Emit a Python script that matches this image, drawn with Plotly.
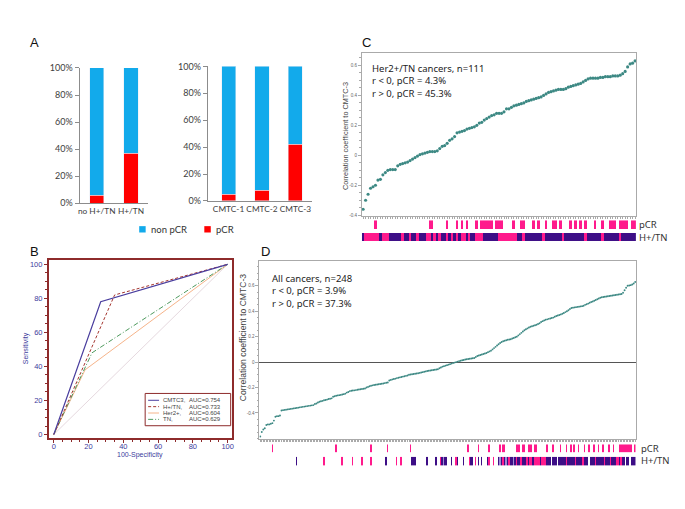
import plotly.graph_objects as go

W, H = 685, 509
def fx(px): return px / W
def fy(py): return 1 - py / H

# ---------------- DATA ----------------
# Panel A
groups_left = ["no H+/TN", "H+/TN"]
pcr_left = [6, 37]
nonpcr_left = [94, 63]
groups_right = ["CMTC-1", "CMTC-2", "CMTC-3"]
pcr_right = [5, 8, 42]
nonpcr_right = [95, 92, 58]
pct_ticks = [0, 20, 40, 60, 80, 100]
pct_labels = ["0%", "20%", "40%", "60%", "80%", "100%"]

# Panel B (ROC curves: 100-Specificity, Sensitivity)
roc_names = ["CMTC3", "H+/TN", "Her2+", "TN"]
roc_auc = ["AUC=0.754", "AUC=0.733", "AUC=0.604", "AUC=0.629"]
cmtc3_fpr = [0, 27, 100]
cmtc3_tpr = [0, 78, 100]
htn_fpr = [0, 35, 100]
htn_tpr = [0, 82, 100]
her2_fpr = [0, 18, 100]
her2_tpr = [0, 38, 100]
tn_fpr = [0, 22, 100]
tn_tpr = [0, 48, 100]
diag = [0, 100]

# Panel C: correlation to CMTC-3, Her2+/TN cancers (n=111), sorted
corr_c = [-0.36, -0.30, -0.26, -0.22, -0.21, -0.20, -0.165, -0.16, -0.13, -0.115,
          -0.10, -0.095, -0.095, -0.095, -0.07, -0.06, -0.055, -0.05, -0.045, -0.035,
          -0.025, -0.015, -0.005, 0.005, 0.01, 0.015, 0.02, 0.025, 0.025, 0.025,
          0.03, 0.045, 0.06, 0.065, 0.08, 0.10, 0.11, 0.125, 0.15, 0.155,
          0.16, 0.165, 0.175, 0.18, 0.185, 0.19, 0.20, 0.215, 0.22, 0.235,
          0.245, 0.255, 0.265, 0.27, 0.28, 0.28, 0.28, 0.29, 0.31, 0.31,
          0.32, 0.33, 0.335, 0.34, 0.345, 0.35, 0.36, 0.365, 0.37, 0.375,
          0.38, 0.385, 0.39, 0.40, 0.41, 0.42, 0.425, 0.43, 0.435, 0.44,
          0.44, 0.44, 0.445, 0.455, 0.46, 0.465, 0.47, 0.475, 0.48, 0.49,
          0.50, 0.51, 0.515, 0.515, 0.515, 0.515, 0.52, 0.52, 0.525, 0.525,
          0.525, 0.53, 0.53, 0.53, 0.535, 0.545, 0.56, 0.59, 0.61, 0.615,
          0.63]
pcr_idx_c = [5, 27, 28, 34, 38, 40, 42, 46, 48, 49, 50, 51, 52, 54, 55, 56, 61, 64, 65,
             69, 71, 74, 77, 78, 80, 84, 86, 88, 90, 94, 97, 100, 101, 102, 104, 105,
             106, 107, 109, 110]
# H+/TN subtype per sample: P = Her2+ (pink), V = TN (purple)
subtype_c = ("V" + "PPPPPP" + "V" + "PPP" + "VVVVV" + "P" + "VV" + "P" + "VV" + "P" + "VVV"
             + "PP" + "V" + "P" + "V" + "P" + "VV" + "P" + "V" + "P" + "V" + "P" + "V" + "PP"
             + "V" + "P" + "VV" + "PPP" + "VVVVVV" + "PPPPPPPP" + "VV" + "P" + "VVVVVVV" + "P"
             + "VVVVVVV" + "P" + "VVVVVVVV" + "P" + "VVVVVV" + "P" + "VVVVVV" + "P" + "VVVVVV")

# Panel D: all cancers (n=248), sorted
corr_d = [-0.585, -0.55, -0.53, -0.52, -0.495, -0.49, -0.49, -0.485, -0.48, -0.46,
          -0.43, -0.425, -0.425, -0.42, -0.38, -0.378, -0.376, -0.374, -0.372, -0.37,
          -0.368, -0.366, -0.364, -0.362, -0.36, -0.358, -0.356, -0.354, -0.352, -0.35,
          -0.348, -0.346, -0.344, -0.342, -0.34, -0.338, -0.33, -0.325, -0.318, -0.312,
          -0.308, -0.305, -0.30, -0.298, -0.295, -0.29, -0.288, -0.285, -0.272, -0.268,
          -0.265, -0.262, -0.26, -0.258, -0.255, -0.252, -0.248, -0.24, -0.235, -0.228,
          -0.225, -0.223, -0.222, -0.22, -0.218, -0.216, -0.214, -0.212, -0.21, -0.208,
          -0.20, -0.195, -0.19, -0.186, -0.183, -0.18, -0.178, -0.176, -0.174, -0.172,
          -0.17, -0.168, -0.165, -0.162, -0.16, -0.145, -0.14, -0.136, -0.133, -0.13,
          -0.126, -0.123, -0.12, -0.117, -0.114, -0.111, -0.108, -0.105, -0.10, -0.098,
          -0.096, -0.094, -0.092, -0.09, -0.088, -0.085, -0.082, -0.079, -0.076, -0.073,
          -0.07, -0.068, -0.066, -0.064, -0.062, -0.06, -0.058, -0.056, -0.048, -0.042,
          -0.036, -0.032, -0.028, -0.024, -0.02, -0.016, -0.012, -0.008, -0.004, 0.0,
          0.004, 0.008, 0.011, 0.014, 0.017, 0.02, 0.022, 0.024, 0.026, 0.028,
          0.03, 0.032, 0.04, 0.048, 0.052, 0.056, 0.06, 0.064, 0.068, 0.072,
          0.078, 0.084, 0.09, 0.10, 0.11, 0.12, 0.13, 0.14, 0.15, 0.158,
          0.164, 0.168, 0.172, 0.176, 0.178, 0.18, 0.185, 0.19, 0.195, 0.20,
          0.21, 0.22, 0.23, 0.24, 0.25, 0.258, 0.265, 0.272, 0.278, 0.282,
          0.286, 0.29, 0.294, 0.30, 0.305, 0.315, 0.322, 0.328, 0.333, 0.336,
          0.34, 0.343, 0.347, 0.35, 0.356, 0.362, 0.366, 0.37, 0.375, 0.38,
          0.386, 0.393, 0.40, 0.408, 0.418, 0.425, 0.428, 0.43, 0.432, 0.434,
          0.436, 0.438, 0.44, 0.443, 0.45, 0.455, 0.46, 0.466, 0.472, 0.477,
          0.482, 0.488, 0.494, 0.50, 0.506, 0.51, 0.512, 0.514, 0.516, 0.518,
          0.52, 0.522, 0.524, 0.525, 0.527, 0.529, 0.531, 0.533, 0.535, 0.545,
          0.565, 0.585, 0.60, 0.602, 0.605, 0.61, 0.618, 0.63]
pcr_idx_d = [8, 50, 73, 84, 99, 137, 144, 151, 158, 160, 161, 169, 170, 171, 173, 174,
             177, 178, 179, 181, 182, 189, 193, 198, 202, 205, 207, 210, 214, 217, 220,
             223, 226, 230, 233, 237, 238, 239, 240, 241, 242, 243, 244, 245, 247]
her2_idx_d = [42, 54, 61, 67, 73, 90, 93, 119, 129, 138, 142, 151, 154, 160, 164, 169,
              172, 176, 178, 179, 181, 182, 183, 184, 186, 187, 188, 202, 208, 213, 221,
              227, 231, 235, 236, 238]
tn_idx_d = [24, 83, 100, 101, 102, 110, 116, 120, 122, 123, 126, 130, 134, 139, 140,
            144, 146, 150, 157, 159, 161, 163, 165, 166, 168, 170, 171, 173, 174, 175,
            177, 180, 185, 189, 190, 191, 193, 194, 195, 197, 198, 199, 200, 201, 203,
            204, 205, 206, 207, 209, 210, 211, 212, 214, 215, 216, 218, 219, 220, 222,
            223, 224, 225, 226, 228, 229, 230, 232, 233, 234, 237, 239, 240, 242, 243,
            245, 246, 247]
other_idx_d = [121, 158, 162, 167]

# ---------------- STYLE ----------------
BLUE = "#12AAEB"
RED = "#FF0000"
PINK = "#FF1A8C"
PURPLE = "#3D0E86"
LAVENDER = "#9C8DD4"
TEAL = "#3D8984"
ROCRED = "#8E2B2B"
ROCBLUE = "#3C3C9C"

fig = go.Figure()

# ---- Panel A bars
fig.add_trace(go.Bar(x=groups_left, y=pcr_left, marker_color=RED, width=0.41,
                     name="pCR", xaxis="x", yaxis="y"))
fig.add_trace(go.Bar(x=groups_left, y=nonpcr_left, marker_color=BLUE, width=0.41,
                     name="non pCR", xaxis="x", yaxis="y"))
fig.add_trace(go.Bar(x=groups_right, y=pcr_right, marker_color=RED, width=0.42,
                     name="pCR", xaxis="x2", yaxis="y2"))
fig.add_trace(go.Bar(x=groups_right, y=nonpcr_right, marker_color=BLUE, width=0.42,
                     name="non pCR", xaxis="x2", yaxis="y2"))

# ---- Panel B ROC
roc_styles = [("#4A3E9E", "solid", 1.2), ("#A5362F", "3px,2px", 1.0),
              ("#F6B48A", "solid", 1.0), ("#4E9A5E", "5px,2px,1px,2px", 1.0)]
fig.add_trace(go.Scatter(x=diag, y=diag, mode="lines", line=dict(color="#E6D9DF", width=1),
                         xaxis="x3", yaxis="y3"))
for (fxv, tyv), (col, dash, wd) in zip(
        [(her2_fpr, her2_tpr), (tn_fpr, tn_tpr), (htn_fpr, htn_tpr), (cmtc3_fpr, cmtc3_tpr)],
        [roc_styles[2], roc_styles[3], roc_styles[1], roc_styles[0]]):
    fig.add_trace(go.Scatter(x=fxv, y=tyv, mode="lines", line=dict(color=col, dash=dash, width=wd),
                             xaxis="x3", yaxis="y3"))

# ---- Panel C
n_c = len(corr_c)
fig.add_trace(go.Scatter(x=list(range(n_c)), y=corr_c, mode="markers",
                         marker=dict(color=TEAL, size=3.1), xaxis="x4", yaxis="y4"))
fig.add_trace(go.Heatmap(x=list(range(n_c)), y=[0],
                         z=[[1 if i in pcr_idx_c else None for i in range(n_c)]],
                         colorscale=[[0, PINK], [1, PINK]], showscale=False, hoverinfo="skip",
                         xaxis="x4", yaxis="y5"))
fig.add_trace(go.Heatmap(x=list(range(n_c)), y=[0],
                         z=[[0 if s == "P" else 1 for s in subtype_c]], zmin=0, zmax=2,
                         colorscale=[[0, PINK], [0.25, PINK], [0.25, PURPLE], [0.75, PURPLE],
                                     [0.75, LAVENDER], [1, LAVENDER]],
                         showscale=False, hoverinfo="skip", xaxis="x4", yaxis="y6"))

# ---- Panel D
n_d = len(corr_d)
fig.add_trace(go.Scatter(x=list(range(n_d)), y=corr_d, mode="markers",
                         marker=dict(color=TEAL, size=1.9), xaxis="x5", yaxis="y7"))
fig.add_trace(go.Heatmap(x=list(range(n_d)), y=[0],
                         z=[[1 if i in pcr_idx_d else None for i in range(n_d)]],
                         colorscale=[[0, PINK], [1, PINK]], showscale=False, hoverinfo="skip",
                         xaxis="x5", yaxis="y8"))
sub_d = []
for i in range(n_d):
    if i in her2_idx_d:
        sub_d.append(0)
    elif i in tn_idx_d:
        sub_d.append(1)
    elif i in other_idx_d:
        sub_d.append(2)
    else:
        sub_d.append(None)
fig.add_trace(go.Heatmap(x=list(range(n_d)), y=[0], z=[sub_d], zmin=0, zmax=2,
                         colorscale=[[0, PINK], [0.25, PINK], [0.25, PURPLE], [0.75, PURPLE],
                                     [0.75, LAVENDER], [1, LAVENDER]],
                         showscale=False, hoverinfo="skip", xaxis="x5", yaxis="y9"))

# ---------------- LAYOUT ----------------
afont = dict(family="Lato", size=9, color="#404040")
cfont = dict(family="Lato", size=8.3, color="#404040")
axA = dict(showline=True, linecolor="#8C8C8C", linewidth=1, showgrid=False, zeroline=False)
fig.update_layout(
    width=W, height=H, margin=dict(l=0, r=0, t=0, b=0),
    paper_bgcolor="white", plot_bgcolor="white",
    barmode="stack", bargap=0.58,
    font=dict(family="Liberation Sans", color="#333"),
    showlegend=False,
    xaxis=dict(domain=[fx(78), fx(147)], range=[-0.5, 1.5], anchor="y", ticks="", tickangle=0,
               tickfont=cfont, **axA),
    yaxis=dict(domain=[fy(201.7), fy(63.3)], range=[0, 100], anchor="x", tickvals=pct_ticks,
               ticktext=pct_labels, ticks="outside", ticklen=4, tickcolor="#8C8C8C", tickfont=afont, **axA),
    xaxis2=dict(domain=[fx(207), fx(312)], range=[-0.62, 2.5], anchor="y2", ticks="", tickangle=0,
                tickfont=cfont, **axA),
    yaxis2=dict(domain=[fy(199.3), fy(61.7)], range=[0, 100], anchor="x2", tickvals=pct_ticks,
                ticktext=pct_labels, ticks="outside", ticklen=4, tickcolor="#8C8C8C", tickfont=afont, **axA),
    xaxis3=dict(domain=[fx(47), fx(231)], range=[-2.9, 102.3], anchor="y3",
                showline=True, mirror=True, linecolor=ROCRED, linewidth=1.5, showgrid=False, zeroline=False,
                ticks="outside", ticklen=3, tickcolor=ROCRED, dtick=20, tick0=0, ticklabelstandoff=-3,
                minor=dict(dtick=5, ticks="outside", ticklen=2, tickcolor=ROCRED),
                tickfont=dict(family="Liberation Sans", size=7.5, color=ROCBLUE)),
    yaxis3=dict(domain=[fy(442), fy(260)], range=[-2.3, 102.3], anchor="x3",
                showline=True, mirror=True, linecolor=ROCRED, linewidth=1.5, showgrid=False, zeroline=False,
                ticks="outside", ticklen=3, tickcolor=ROCRED, dtick=20, tick0=0,
                minor=dict(dtick=5, ticks="outside", ticklen=2, tickcolor=ROCRED),
                tickfont=dict(family="Liberation Sans", size=7.5, color=ROCBLUE)),
    xaxis4=dict(domain=[fx(362), fx(638)], range=[-0.5, n_c - 0.5], anchor="y4",
                showline=True, mirror=True, linecolor="#AAAAAA", linewidth=1, showgrid=False, zeroline=False,
                ticks="outside", dtick=1, tick0=0, ticklen=2, tickcolor="#AAAAAA", showticklabels=False),
    yaxis4=dict(domain=[fy(215), fy(48)], range=[-0.407, 0.683], anchor="x4",
                showline=True, mirror=True, linecolor="#AAAAAA", linewidth=1, showgrid=False, zeroline=False,
                ticks="outside", ticklen=3, tickcolor="#AAAAAA", tickvals=[-0.4, -0.2, 0, 0.2, 0.4, 0.6],
                ticktext=["-0.4", "-0.2", "0", "0.2", "0.4", "0.6"],
                minor=dict(dtick=0.05, ticks="outside", ticklen=1.5, tickcolor="#AAAAAA"),
                tickfont=dict(family="Liberation Sans", size=4.5, color="#666")),
    yaxis5=dict(domain=[fy(228), fy(219)], anchor="x4", visible=False, range=[-0.5, 0.5]),
    yaxis6=dict(domain=[fy(240.5), fy(232)], anchor="x4", visible=False, range=[-0.5, 0.5]),
    xaxis5=dict(domain=[fx(259), fx(637.7)], range=[-0.5, n_d - 0.5], anchor="y7",
                showline=True, mirror=True, linecolor="#AAAAAA", linewidth=1, showgrid=False, zeroline=False,
                ticks="outside", dtick=1, tick0=0, ticklen=2, tickcolor="#AAAAAA", showticklabels=False),
    yaxis7=dict(domain=[fy(443), fy(261)], range=[-0.608, 0.792], anchor="x5",
                showline=True, mirror=True, linecolor="#AAAAAA", linewidth=1, showgrid=False,
                zeroline=True, zerolinecolor="#555555", zerolinewidth=1,
                ticks="outside", ticklen=3, tickcolor="#AAAAAA", tickvals=[-0.4, -0.2, 0, 0.2, 0.4, 0.6],
                ticktext=["-0.4", "-0.2", "0", "0.2", "0.4", "0.6"],
                minor=dict(dtick=0.05, ticks="outside", ticklen=1.5, tickcolor="#AAAAAA"),
                tickfont=dict(family="Liberation Sans", size=4.5, color="#666")),
    yaxis8=dict(domain=[fy(456.3), fy(448)], anchor="x5", visible=False, range=[-0.5, 0.5]),
    yaxis9=dict(domain=[fy(469.7), fy(460.7)], anchor="x5", visible=False, range=[-0.5, 0.5]),
)

ann = []
def txt(x, y, s, size, family="Liberation Sans", color="#222", xanchor="left", angle=0, yanchor="middle"):
    ann.append(dict(x=fx(x), y=fy(y), xref="paper", yref="paper", text=s, showarrow=False,
                    xanchor=xanchor, yanchor=yanchor, textangle=angle, align="left",
                    font=dict(family=family, size=size, color=color)))

# panel letters
txt(33, 37, "A", 13, "Liberation Sans", "#111", "center")
txt(33, 251, "B", 13, "Liberation Sans", "#111", "center")
txt(367, 37, "C", 13, "Liberation Sans", "#111", "center")
txt(265, 251, "D", 13, "Liberation Sans", "#111", "center")

# A legend (manual)
shapes = [
    dict(type="rect", xref="paper", yref="paper", x0=fx(138), x1=fx(144.5), y0=fy(231.5), y1=fy(225),
         fillcolor=BLUE, line=dict(width=0)),
    dict(type="rect", xref="paper", yref="paper", x0=fx(203.5), x1=fx(210), y0=fy(231.5), y1=fy(225),
         fillcolor=RED, line=dict(width=0)),
]
txt(148, 228, "non pCR", 9.5, "Lato", "#333")
txt(213, 228, "pCR", 9.5, "Lato", "#333")

# ROC axis titles
txt(139, 459, "100-Specificity", 7, "Liberation Sans", ROCBLUE, "center")
txt(25, 350, "Sensitivity", 7, "Liberation Sans", ROCBLUE, "center", -90)

# C text
txt(370, 55, "Her2+/TN cancers, n=111<br>r &lt; 0, pCR = 4.3%<br>r &gt; 0, pCR = 45.3%",
    9.5, "Noto Sans", yanchor="top")
# D text
txt(270, 270, "All cancers, n=248<br>r &lt; 0, pCR = 3.9%<br>r &gt; 0, pCR = 37.3%",
    9.5, "Noto Sans", yanchor="top")
# strip labels
txt(639, 223.5, "pCR", 9.5, "Noto Sans", "#333")
txt(639, 236.5, "H+/TN", 9.5, "Noto Sans", "#333")
txt(641, 452, "pCR", 9.5, "Noto Sans", "#333")
txt(641, 465, "H+/TN", 9.5, "Noto Sans", "#333")
# y titles for C, D
txt(345, 133, "Correlation coefficient to CMTC-3", 7.3, "Liberation Sans", "#444", "center", -90)
txt(242, 339, "Correlation coefficient to CMTC-3", 8.6, "Liberation Sans", "#444", "center", -90)

# ROC legend (manual box)
shapes.append(dict(type="rect", xref="paper", yref="paper", x0=fx(144), x1=fx(230), y0=fy(429), y1=fy(396),
                   line=dict(color=ROCRED, width=1), fillcolor="white", layer="above"))
rows_y = [403, 409.5, 416, 422.5]
for (col, dash, wd), name, auc, ry in zip(roc_styles, roc_names, roc_auc, rows_y):
    shapes.append(dict(type="line", xref="paper", yref="paper", x0=fx(147), x1=fx(158), y0=fy(ry), y1=fy(ry),
                       line=dict(color=col, dash=dash, width=1), layer="above"))
    txt(160, ry, name + ",", 6, "Liberation Sans", "#444")
    txt(186, ry, auc, 6, "Liberation Sans", "#444")

fig.update_layout(annotations=ann, shapes=shapes)
fig.write_html("out.html", config={"displayModeBar": False},
               post_script="document.body.style.margin='0';")
